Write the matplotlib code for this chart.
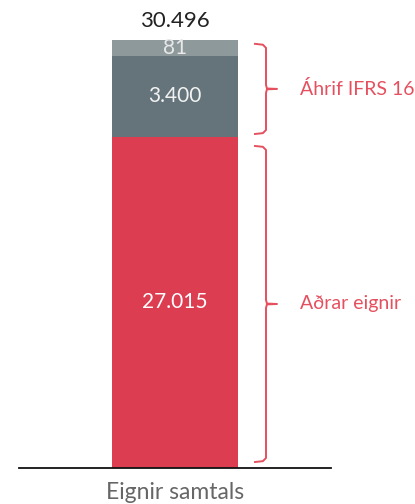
import numpy as np
import matplotlib.pyplot as plt
from matplotlib.lines import Line2D
from matplotlib.transforms import ScaledTranslation

# gögn
category = "Eignir samtals"
segment_names = ["Aðrar eignir", "Áhrif IFRS 16", "Áhrif IFRS 16 (annað)"]
segment_values = [27015, 3400, 81]
segment_labels = ["27.015", "3.400", "81"]
total_label = "30.496"
brace_labels = ["Aðrar eignir", "Áhrif IFRS 16"]

colors = ["#DC3D51", "#64747A", "#8E999C"]
label_colors = ["#FFFFFF", "#F2F2F2", "#E8E8E8"]
red_text = "#E5505F"

plt.rcParams['font.family'] = ['Lato', 'DejaVu Sans']

cum = np.concatenate([[0], np.cumsum(segment_values)])
# sjónræn skölun: IFRS hlutinn er ýktur á myndinni
fracs = np.array([0, 0.7734, 0.9626, 1.0])


def fwd(y):
    return np.interp(y, cum, fracs)


def inv(f):
    return np.interp(f, fracs, cum)


fig = plt.figure(figsize=(4.15, 5.04), dpi=100)
ax = fig.add_axes([19 / 415, 36 / 504, 312 / 415, 428 / 504])
ax.set_yscale('function', functions=(fwd, inv))
ax.set_ylim(0, cum[-1])
ax.set_xlim(-0.5, 0.5)

bw = 126 / 312
for i, v in enumerate(segment_values):
    ax.bar(0, v, bottom=cum[i], width=bw, color=colors[i], linewidth=0)
    mid = inv((fwd(cum[i]) + fwd(cum[i + 1])) / 2)
    ax.text(0, mid, segment_labels[i], ha='center', va='center',
            color=label_colors[i], fontsize=15)

ax.text(0, cum[-1], total_label, ha='center', va='bottom', fontsize=16,
        color='#222222',
        transform=ax.transData + ScaledTranslation(0, 9 / 100, fig.dpi_scale_trans))


# slaufusvigar
def brace(f0, f1, text):
    x0 = (255 - 19) / 312
    x1 = (266 - 19) / 312
    x2 = (277 - 19) / 312
    r = 4 / 428
    fm = (f0 + f1) / 2
    xs = [x0, x1 - 0.01, x1, x1, x1 + 0.003, x2, x1 + 0.003, x1, x1, x1 - 0.01, x0]
    ys = [f1, f1 - 0.002, f1 - r, fm + r, fm + 0.001, fm, fm - 0.001, fm - r, f0 + r, f0 + 0.002, f0]
    ax.add_line(Line2D(xs, ys, transform=ax.transAxes, color=red_text,
                       lw=1.4, clip_on=False, solid_joinstyle='round'))
    ax.text((300 - 19) / 312, fm, text, transform=ax.transAxes, ha='left',
            va='center', color=red_text, fontsize=14)


brace(fwd(cum[1]) + 0.007, 1 - 0.009, brace_labels[1])
brace(0.014, fwd(cum[1]) - 0.021, brace_labels[0])

for s in ['top', 'right', 'left']:
    ax.spines[s].set_visible(False)
ax.spines['bottom'].set_linewidth(1.3)
ax.spines['bottom'].set_color('#111111')
ax.set_yticks([])
ax.set_xticks([0])
ax.set_xticklabels([category], fontsize=16.5, color='#666666')
ax.tick_params(axis='x', length=0, pad=10)

fig.savefig('out.png', dpi=100)
